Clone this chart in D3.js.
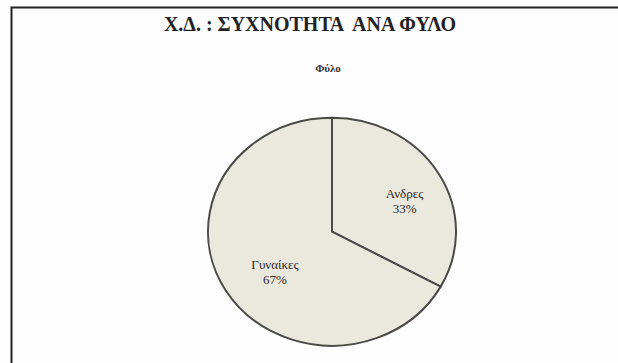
<!DOCTYPE html>
<html><head><meta charset="utf-8">
<script src="https://cdn.jsdelivr.net/npm/d3@7"></script>
<style>html,body{margin:0;padding:0;background:#fff;}</style>
</head><body>
<svg id="c" width="618" height="363"></svg>
<script>
const categories = ["Ανδρες", "Γυναίκες"];
const values = [33, 67];
const labels = ["33%", "67%"];
const title = "Χ.Δ. : ΣΥΧΝΟΤΗΤΑ  ΑΝΑ ΦΥΛΟ";
const subtitle = "Φύλο";

const svg = d3.select("#c");
svg.append("rect").attr("x",0).attr("y",0).attr("width",618).attr("height",363).attr("fill","#fdfdfd");
// frame (top + left visible)
svg.append("path").attr("d","M11.5,375 V7.5 H640").attr("fill","none").attr("stroke","#222").attr("stroke-width",2);

svg.append("text").attr("x",310).attr("y",31).attr("text-anchor","middle")
  .attr("font-family","Liberation Serif, serif").attr("font-weight","bold").attr("font-size",20)
  .attr("fill","#222").attr("xml:space","preserve").style("white-space","pre").text(title);
svg.append("text").attr("x",328).attr("y",72).attr("text-anchor","middle")
  .attr("font-family","Liberation Serif, serif").attr("font-weight","bold").attr("font-size",11)
  .attr("fill","#333").text(subtitle);

const cx = 332, cy = 231.7, r = 124, sy = 114/124;
const pie = d3.pie().sort(null).value(d => d)(values);
const arc = d3.arc().innerRadius(0).outerRadius(r);
const g = svg.append("g").attr("transform",`translate(${cx},${cy}) scale(1,${sy})`);
g.selectAll("path").data(pie).join("path")
  .attr("d", arc).attr("fill","#ebe8de").attr("stroke","#4a4a46").attr("stroke-width",2)
  .attr("vector-effect","non-scaling-stroke").attr("stroke-linejoin","round");

const lr = [0.68, 0.534];
const lg = svg.append("g").attr("transform",`translate(${cx},${cy})`);
pie.forEach((p,i) => {
  const a = (p.startAngle + p.endAngle)/2;
  const rr = r*lr[i];
  const x = Math.sin(a)*rr, y = -Math.cos(a)*rr*sy;
  const t = lg.append("text").attr("text-anchor","middle")
    .attr("font-family","Liberation Serif, serif").attr("font-size",13).attr("fill","#2a2a2a");
  t.append("tspan").attr("x",x).attr("y",y+6).text(categories[i]);
  t.append("tspan").attr("x",x).attr("y",y+21).text(labels[i]);
});
</script>
</body></html>
